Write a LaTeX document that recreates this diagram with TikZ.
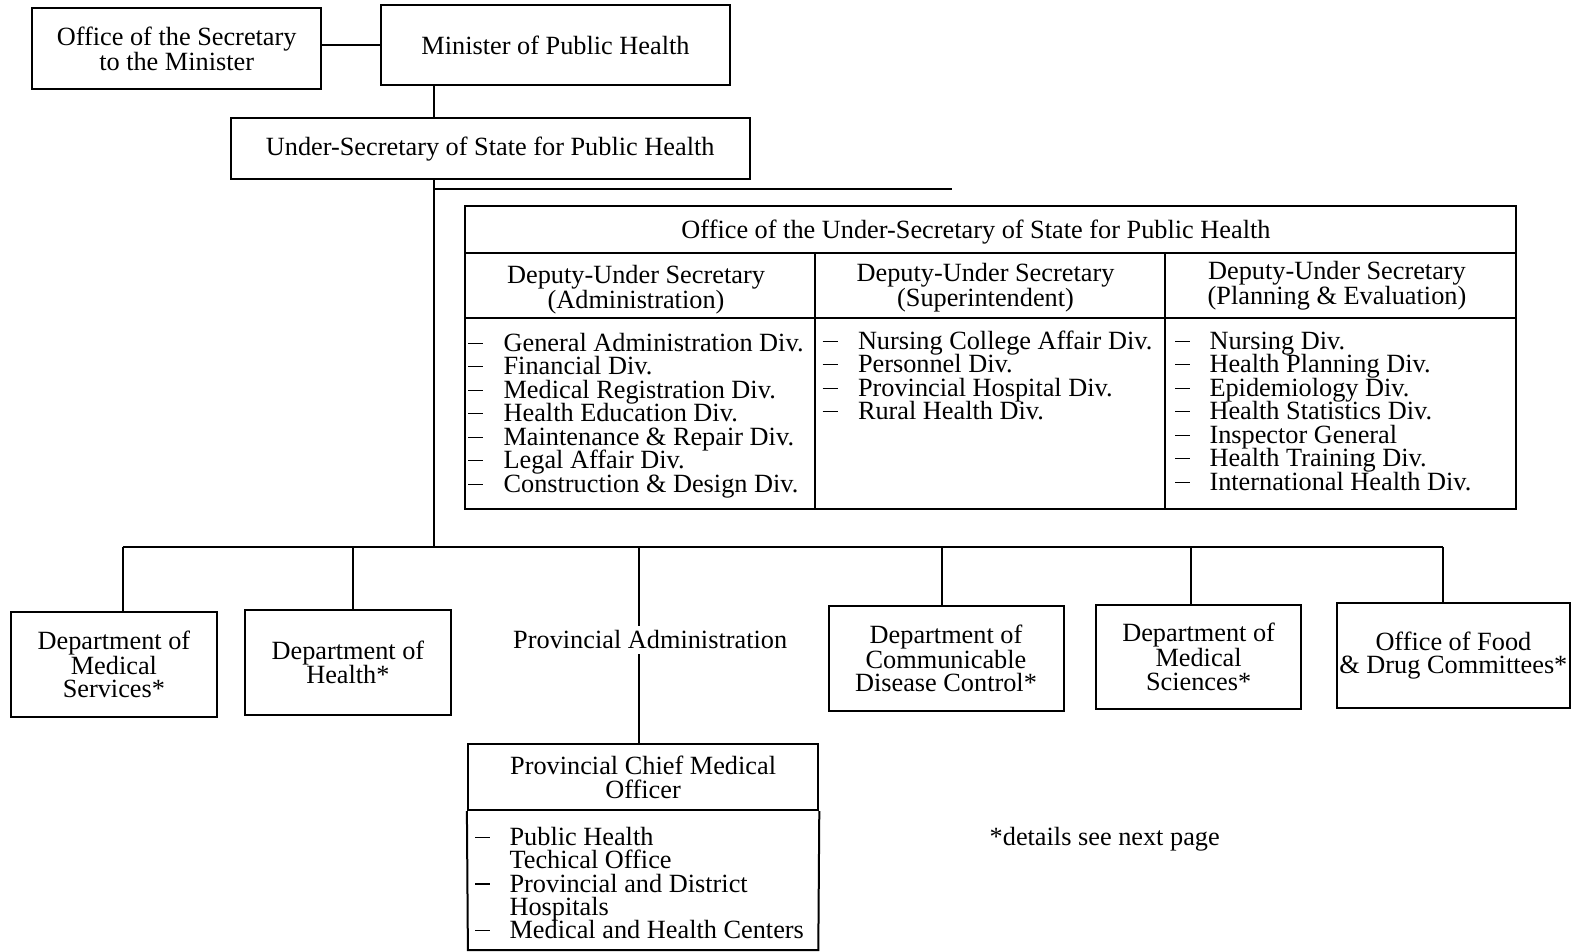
\documentclass[tikz,border=0pt]{standalone}
\usepackage{fontspec}
\setmainfont{Liberation Serif}
\newcommand{\dashmark}{\raisebox{7.5pt}{\rule{15pt}{1.2pt}}}
\begin{document}
\begin{tikzpicture}[x=1pt,y=-1pt,
  every node/.style={font=\fontsize{26.3pt}{23.4pt}\selectfont},
  box/.style={draw,line width=2pt,align=center,inner sep=0pt},
  conn/.style={line width=2pt},
  item/.style={anchor=base west,inner sep=0pt}]
\useasboundingbox (0,0) rectangle (1588,952);

% top
\node[box,minimum width=288.6pt,minimum height=81pt] (sec) at (176.7,48.6) {Office of the Secretary\\to the Minister};
\node[box,minimum width=349.4pt,minimum height=80pt] (min) at (555.5,45.1) {Minister of Public Health};
\node[box,minimum width=518.6pt,minimum height=60.8pt] (us) at (490.2,148.9) {Under-Secretary of State for Public Health};
\draw[conn] (min.west) -- (min.west -| sec.east);

\coordinate (v) at (433.5,0);
\coordinate (tr) at (952,189.4);
\coordinate (bus) at (433.5,546.9);
\draw[conn] (v |- min.south) -- (v |- us.north);
\draw[conn] (v |- us.south) -- (bus);
\draw[conn] (v |- tr) -- (tr);

% office table
\coordinate (tnw) at (464.9,205.6);
\coordinate (tse) at (1516.2,509.4);
\draw[conn] (tnw) rectangle (tse);
\draw[conn] (464.9,253.2) -- (1516.2,253.2);
\draw[conn] (464.9,318) -- (1516.2,318);
\draw[conn] (815.3,253.2) -- (815.3,509.4);
\draw[conn] (1164.7,253.2) -- (1164.7,509.4);
\node (th) at (976,232.4) {Office of the Under-Secretary of State for Public Health};
\node[align=center] (dep1) at (636,289.5) {Deputy-Under Secretary\\(Administration)};
\node[align=center] (dep2) at (985.5,288) {Deputy-Under Secretary\\(Superintendent)};
\node[align=center] (dep3) at (1337,286) {Deputy-Under Secretary\\(Planning \& Evaluation)};

\foreach \t [count=\i from 0] in {General Administration Div., Financial Div., Medical Registration Div., Health Education Div., Maintenance \& Repair Div., Legal Affair Div., Construction \& Design Div.}
  \node[item] (a\i) at (468,{351.5+23.45*\i}) {\makebox[35.4pt][l]{\dashmark}\t};
\foreach \t [count=\i from 0] in {Nursing College Affair Div., Personnel Div., Provincial Hospital Div., Rural Health Div.}
  \node[item] (b\i) at (822.4,{349.5+23.45*\i}) {\makebox[35.4pt][l]{\dashmark}\t};
\foreach \t [count=\i from 0] in {Nursing Div., Health Planning Div., Epidemiology Div., Health Statistics Div., Inspector General, Health Training Div., International Health Div.}
  \node[item] (c\i) at (1174.9,{349.5+23.45*\i}) {\makebox[34.4pt][l]{\dashmark}\t};

% bus
\coordinate (b1) at (122.5,546.9);
\coordinate (b2) at (352.5,546.9);
\coordinate (b3) at (639.1,546.9);
\coordinate (b4) at (941.9,546.9);
\coordinate (b5) at (1191,546.9);
\coordinate (b6) at (1443.2,546.9);
\draw[conn] (b1) -- (b6);

\node[box,minimum width=205.6pt,minimum height=105.4pt] (dms) at (113.9,664.4) {Department of\\Medical\\Services*};
\node[box,minimum width=205.6pt,minimum height=105.3pt] (dh) at (347.9,662.3) {Department of\\Health*};
\node[inner sep=5pt] (pa) at (650.2,640) {Provincial Administration};
\node[box,minimum width=235pt,minimum height=105.3pt] (dcdc) at (946,658.3) {Department of\\Communicable\\Disease Control*};
\node[box,minimum width=205.6pt,minimum height=104.3pt] (dmsc) at (1198.6,656.8) {Department of\\Medical\\Sciences*};
\node[box,minimum width=233pt,minimum height=105pt] (ofd) at (1453.4,655.3) {Office of Food\\\& Drug Committees*};

\draw[conn] (b1) -- (b1 |- dms.north);
\draw[conn] (b2) -- (b2 |- dh.north);
\draw[conn] (b3) -- (b3 |- pa.north);
\draw[conn] (b4) -- (b4 |- dcdc.north);
\draw[conn] (b5) -- (b5 |- dmsc.north);
\draw[conn] (b6) -- (b6 |- ofd.north);

% provincial chief medical officer
\node[box,minimum width=350.4pt,minimum height=65.8pt] (pcmo) at (643.1,777.3) {Provincial Chief Medical\\Officer};
\draw[conn] (b3 |- pa.south) -- (b3 |- pcmo.north);
\draw[conn] (pcmo.south west) -- (467.9,950) -- (818.3,950) -- (pcmo.south east);
\foreach \d/\t [count=\i from 0] in {1/Public Health, 0/Techical Office, 1/Provincial and District, 0/Hospitals, 1/Medical and Health Centers}
  \node[item] (p\i) at (475,{845.6+23.2*\i}) {\makebox[34.4pt][l]{\ifnum\d=1 \dashmark\fi}\t};

\node[anchor=base west,inner sep=0pt] (note) at (989.5,845.6) {*details see next page};
\end{tikzpicture}
\end{document}
